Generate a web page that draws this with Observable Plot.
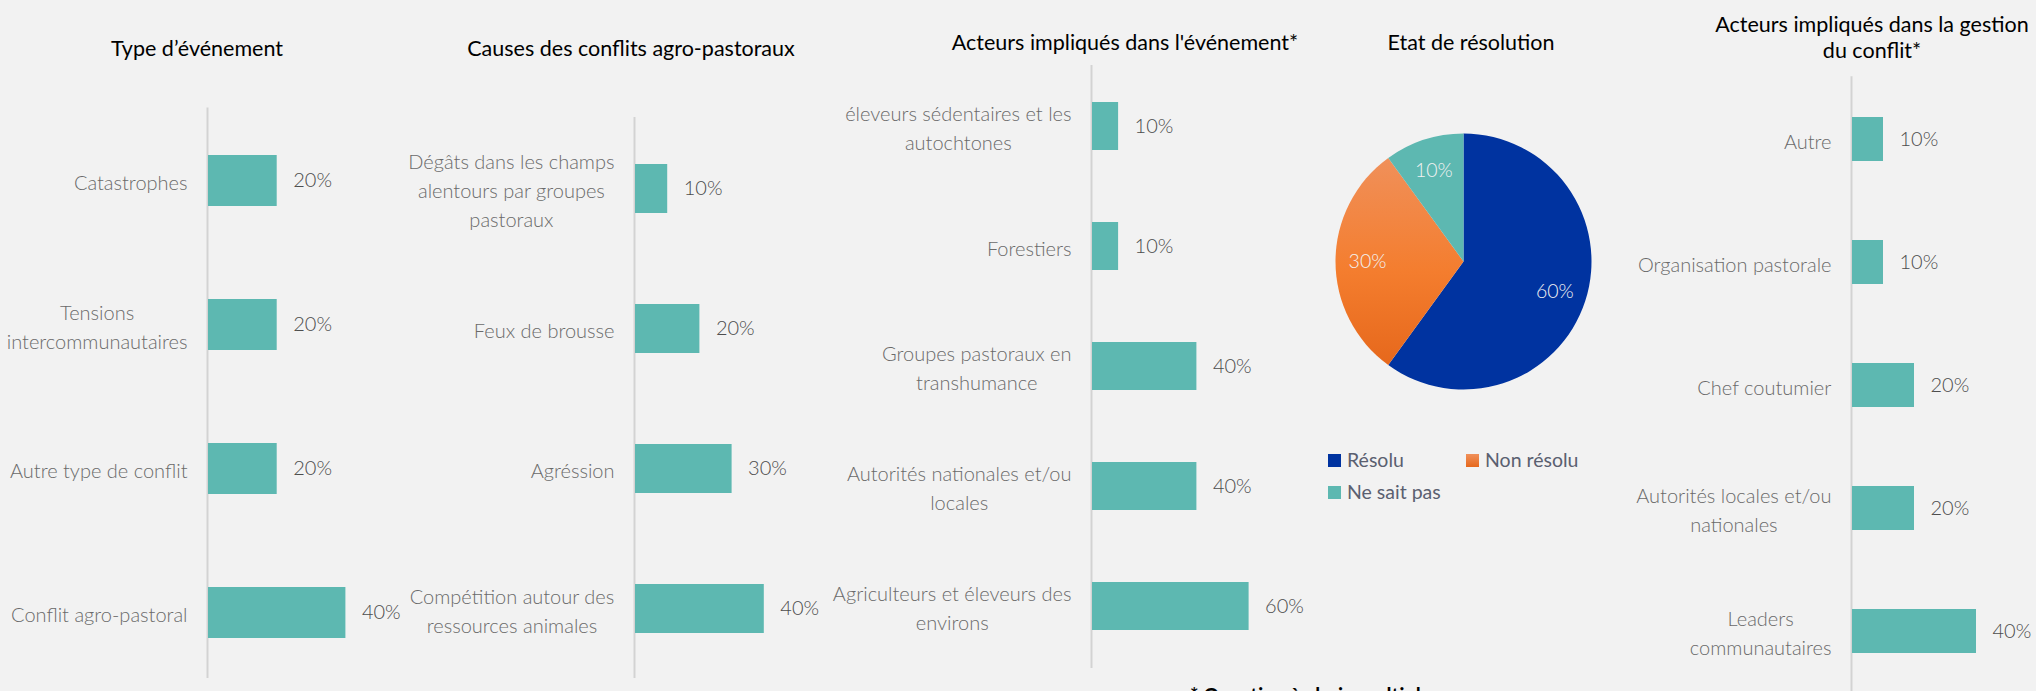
<!DOCTYPE html>
<html><head><meta charset="utf-8">
<script src="https://cdn.jsdelivr.net/npm/d3@7"></script>
<script src="https://cdn.jsdelivr.net/npm/@observablehq/plot@0.6"></script>
<style>
html,body{margin:0;padding:0;background:#F2F2F2;overflow:hidden;}
#page{position:relative;width:2036px;height:691px;background:#F2F2F2;overflow:hidden;font-family:Lato,"Open Sans",sans-serif;}
#page svg{position:absolute;left:0;top:0;}
.title{position:absolute;color:#000;font-size:21.5px;text-align:center;white-space:nowrap;transform:translateX(-50%);line-height:26px;}
.sw{position:absolute;width:13px;height:13px;}
.lt{position:absolute;font-size:19.5px;font-weight:400;color:#5A6070;line-height:20px;white-space:nowrap;}
.foot{position:absolute;font-size:20px;font-weight:bold;color:#000;white-space:nowrap;line-height:24px;}
</style></head>
<body><div id="page"></div>
<script>
// ---------- DATA ----------
const typeCategories = ["Catastrophes", "Tensions\nintercommunautaires", "Autre type de conflit", "Conflit agro-pastoral"];
const typeValues = [0.2, 0.2, 0.2, 0.4];

const causeCategories = ["Dégâts dans les champs\nalentours par groupes\npastoraux", "Feux de brousse", "Agréssion", "Compétition autour des\nressources animales"];
const causeValues = [0.1, 0.2, 0.3, 0.4];

const acteurCategories = ["éleveurs sédentaires et les\nautochtones", "Forestiers", "Groupes pastoraux en\ntranshumance", "Autorités nationales et/ou\nlocales", "Agriculteurs et éleveurs des\nenvirons"];
const acteurValues = [0.1, 0.1, 0.4, 0.4, 0.6];

const pieLabels = ["Résolu", "Non résolu", "Ne sait pas"];
const pieValues = [0.6, 0.3, 0.1];
const pieColors = ["#0033A0", "url(#orangeGrad)", "#5DB8B1"];
const pieSwatch = ["#0033A0", "#EE7A2E", "#5DB8B1"];

const gestionCategories = ["Autre", "Organisation pastorale", "Chef coutumier", "Autorités locales et/ou\nnationales", "Leaders\ncommunautaires"];
const gestionValues = [0.1, 0.1, 0.2, 0.2, 0.4];

const titles = ["Type d’événement", "Causes des conflits agro-pastoraux", "Acteurs impliqués dans l'événement*", "Etat de résolution", "Acteurs impliqués dans la gestion\ndu conflit*"];
const footnote = "* Question à choix multiple";

// ---------- LAYOUT ----------
const W = 2036, H = 691;
const page = document.getElementById("page");
const pct = d3.format(".0%");
const FONT = 20;
const ctx = document.createElement("canvas").getContext("2d");
ctx.font = `300 ${FONT}px Lato`;
const measure = s => ctx.measureText(s).width;

function barPanel({cats, vals, xRange, yRange, ruleBottom, barH}) {
  const data = cats.map((c, i) => ({cat: c, value: vals[i]}));
  const step = (yRange[1] - yRange[0]) / cats.length;
  const p = 1 - barH / step;
  const marks = [
    Plot.ruleX([0], {stroke: "#D3D3D3", strokeWidth: 2, dx: -1}),
    Plot.barX(data, {x: "value", y: "cat", fill: "#5DB8B1"}),
    Plot.text(data, {x: "value", y: "cat", text: d => pct(d.value), textAnchor: "start", dx: 16, fill: "#4D4D4D", fontSize: 20, fontWeight: 300})
  ];
  for (const d of data) {
    const w = Math.max(...d.cat.split("\n").map(measure));
    marks.push(Plot.text([d], {x: () => 0, y: "cat", text: "cat", textAnchor: "middle", dx: -(21 + w / 2), fill: "#6A6A6A", fontSize: FONT, fontWeight: 300, lineHeight: 1.45}));
  }
  const svg = Plot.plot({
    width: W, height: H,
    marginTop: yRange[0], marginBottom: H - ruleBottom, marginLeft: 0, marginRight: 0,
    x: {domain: [0, 1], range: xRange, axis: null},
    y: {domain: cats, range: yRange, paddingInner: p, paddingOuter: p / 2, axis: null},
    style: {background: "transparent", overflow: "visible", fontFamily: "Lato, sans-serif"},
    marks
  });
  page.appendChild(svg);
}

barPanel({cats: typeCategories, vals: typeValues, xRange: [208, 551.5], yRange: [107.5, 684.5], ruleBottom: 678, barH: 51});
barPanel({cats: causeCategories, vals: causeValues, xRange: [635, 957], yRange: [117, 680.6], ruleBottom: 678, barH: 49.5});
barPanel({cats: acteurCategories, vals: acteurValues, xRange: [1092, 1353], yRange: [65, 666], ruleBottom: 668, barH: 47.7});
barPanel({cats: gestionCategories, vals: gestionValues, xRange: [1852, 2162], yRange: [76.3, 693.8], ruleBottom: 691, barH: 44});

// ---------- PIE ----------
const pieData = pieLabels.map((l, i) => ({label: l, value: pieValues[i]}));
const pieCx = 1463.5, pieCy = 261.5, pieR = 128, labelR = 96;
const pieSvg = Plot.plot({
  width: W, height: H, margin: 0,
  x: {axis: null}, y: {axis: null},
  style: {background: "transparent", overflow: "visible", fontFamily: "Lato, sans-serif"},
  marks: [
    () => {
      const g = d3.create("svg:g").attr("transform", `translate(${pieCx},${pieCy})`);
      const grad = g.append("defs").append("linearGradient").attr("id", "orangeGrad").attr("x1", 0).attr("y1", 0).attr("x2", 0).attr("y2", 1);
      grad.append("stop").attr("offset", "0%").attr("stop-color", "#F0905A");
      grad.append("stop").attr("offset", "55%").attr("stop-color", "#F47D2E");
      grad.append("stop").attr("offset", "100%").attr("stop-color", "#E6681C");
      const arcs = d3.pie().sort(null).value(d => d.value)(pieData);
      const arc = d3.arc().innerRadius(0).outerRadius(pieR);
      const lab = d3.arc().innerRadius(labelR).outerRadius(labelR);
      g.selectAll("path").data(arcs).join("path")
        .attr("d", arc).attr("fill", (d, i) => pieColors[i]);
      g.selectAll("text").data(arcs).join("text")
        .attr("transform", d => `translate(${lab.centroid(d)})`)
        .attr("text-anchor", "middle").attr("dy", "0.35em")
        .attr("fill", "#F2F2F2").attr("font-size", 19.5).attr("font-weight", 300)
        .text(d => pct(d.data.value));
      return g.node();
    }
  ]
});
page.appendChild(pieSvg);

// legend
const legPos = [[1328, 460.3], [1466, 460.3], [1328, 492.3]];
pieLabels.forEach((l, i) => {
  const [x, y] = legPos[i];
  const sw = document.createElement("div");
  sw.className = "sw"; sw.style.left = x + "px"; sw.style.top = (y - 6.5) + "px"; sw.style.background = pieSwatch[i];
  if (i === 1) sw.style.background = "linear-gradient(#F0905A,#E6681C)";
  page.appendChild(sw);
  const t = document.createElement("div");
  t.className = "lt"; t.textContent = l; t.style.left = (x + 19) + "px"; t.style.top = (y - 10) + "px";
  page.appendChild(t);
});

// titles
const titlePos = [[197, 35], [631, 35], [1125, 29], [1471, 29], [1872, 11]];
titles.forEach((s, i) => {
  const d = document.createElement("div");
  d.className = "title";
  d.style.left = titlePos[i][0] + "px"; d.style.top = titlePos[i][1] + "px";
  d.innerHTML = s.split("\n").join("<br>");
  page.appendChild(d);
});

const f = document.createElement("div");
f.className = "foot"; f.textContent = footnote; f.style.left = "1190px"; f.style.top = "683px";
page.appendChild(f);
</script>
</body></html>
